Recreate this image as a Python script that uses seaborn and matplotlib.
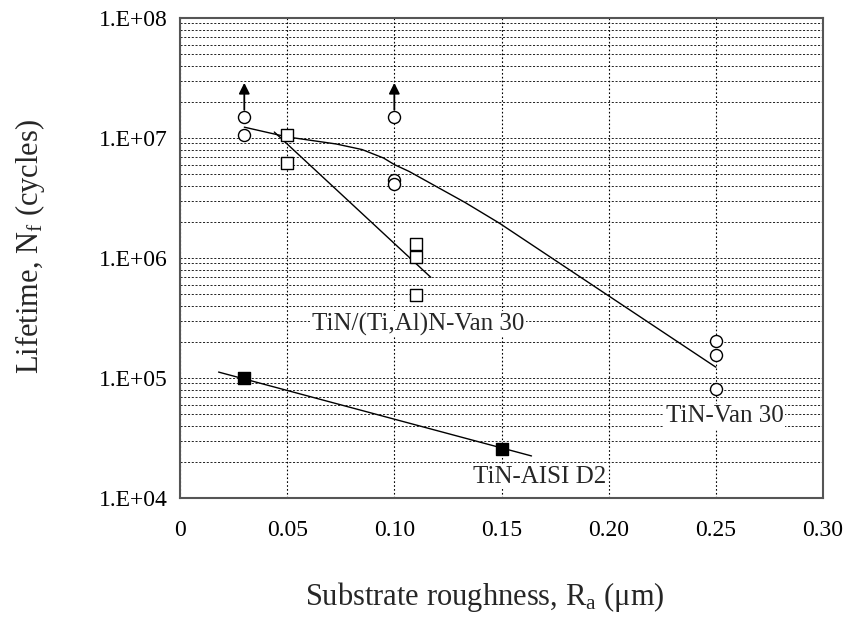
import numpy as np
import pandas as pd
import matplotlib
matplotlib.use("Agg")
import matplotlib.pyplot as plt
import matplotlib.ticker as mticker
import seaborn as sns

# data
van_x = [0.03, 0.03, 0.10, 0.10, 0.10, 0.25, 0.25, 0.25]
van_y = [1.5e7, 1.05e7, 1.5e7, 4.5e6, 4.1e6, 2.03e5, 1.55e5, 8.1e4]
runout_x = [0.03, 0.10]
runout_y = [1.5e7, 1.5e7]

tial_x = [0.05, 0.05, 0.11, 0.11, 0.11]
tial_y = [1.06e7, 6.2e6, 1.31e6, 1.02e6, 4.9e5]

d2_x = [0.03, 0.15]
d2_y = [1.0e5, 2.56e4]

# trend lines
van_fit_x = [0.03, 0.05, 0.073, 0.085, 0.095, 0.10, 0.107, 0.12, 0.133, 0.149, 0.25]
van_fit_y = [1.23e7, 1.02e7, 8.9e6, 8.0e6, 6.8e6, 6.0e6, 5.25e6, 3.9e6, 2.9e6, 1.95e6, 1.23e5]
tial_fit_x = [0.044, 0.117]
tial_fit_y = [1.12e7, 6.9e5]
d2_fit_x = [0.018, 0.164]
d2_fit_y = [1.12e5, 2.24e4]

sns.set_style("white")
plt.rcParams['font.family'] = ['Liberation Serif', 'DejaVu Serif']
plt.rcParams['mathtext.fontset'] = 'custom'
plt.rcParams['mathtext.rm'] = 'Liberation Serif'
plt.rcParams['mathtext.it'] = 'Liberation Serif:italic'

fig = plt.figure(figsize=(8.6, 6.19), dpi=100)
ax = fig.add_axes([0.2093, 0.1955, 0.7477, 0.7755])
ax.set_yscale("log")

# fitted lines
for fx, fy in [(van_fit_x, van_fit_y), (tial_fit_x, tial_fit_y), (d2_fit_x, d2_fit_y)]:
    sns.lineplot(x=fx, y=fy, ax=ax, color="black", lw=1.0, sort=False, zorder=3)

# markers
sns.scatterplot(x=van_x, y=van_y, ax=ax, marker="o", s=75, facecolor="white",
                edgecolor="black", linewidth=1.0, zorder=4)
sns.scatterplot(x=tial_x, y=tial_y, ax=ax, marker="s", s=70, facecolor="white",
                edgecolor="black", linewidth=1.0, zorder=4)
sns.scatterplot(x=d2_x, y=d2_y, ax=ax, marker="s", s=70, color="black",
                edgecolor="black", linewidth=1.0, zorder=4)

# run-out arrows
for rx, ry in zip(runout_x, runout_y):
    ax.annotate("", xy=(rx, ry * 10 ** (34 / 120)), xytext=(rx, ry * 10 ** (7 / 120)),
                arrowprops=dict(arrowstyle="-|>", color="black", lw=1.3,
                                mutation_scale=16, shrinkA=0, shrinkB=0), zorder=5)

ax.set_xlim(0, 0.30)
ax.set_ylim(1e4, 1e8)

ax.xaxis.set_major_locator(mticker.MultipleLocator(0.05))
ax.xaxis.set_minor_locator(mticker.MultipleLocator(0.025))
ax.xaxis.set_major_formatter(mticker.FuncFormatter(
    lambda v, p: "0" if abs(v) < 1e-9 else f"{v:.2f}"))
ax.yaxis.set_major_locator(mticker.LogLocator(base=10, numticks=10))
ax.yaxis.set_minor_locator(mticker.LogLocator(base=10, subs=np.arange(2, 10), numticks=10))
ax.yaxis.set_minor_formatter(mticker.NullFormatter())
ax.yaxis.set_major_formatter(mticker.FuncFormatter(
    lambda v, p: f"1.E+{int(round(np.log10(v))):02d}"))

ax.grid(True, which="major", axis="x", color="black", ls=(0, (1.5, 2)), lw=0.8)
ax.grid(True, which="both", axis="y", color="black", ls=(0, (2.5, 2)), lw=0.6)
ax.set_axisbelow(True)

ax.tick_params(axis="both", which="both", direction="in", labelsize=17, colors="black")
ax.tick_params(axis="x", which="both", length=5, pad=16)
ax.tick_params(axis="y", which="major", length=0, pad=9)
ax.tick_params(axis="y", which="minor", length=0)

for sp in ax.spines.values():
    sp.set_color("#555555")
    sp.set_linewidth(1.5)

ax.set_xlabel(r"Substrate roughness, R$_\mathrm{a}$ ($\mathrm{\mu}$m)", fontsize=22)
ax.set_ylabel(r"Lifetime, N$_\mathrm{f}$ (cycles)", fontsize=22)
ax.xaxis.set_label_coords(0.474, -0.206)
ax.xaxis.label.set_va("center")
ax.yaxis.set_label_coords(-0.233, 0.523)
ax.yaxis.label.set_va("center")

box = dict(facecolor="white", edgecolor="none", pad=1)
ax.text(0.111, 2.8e5, "TiN/(Ti,Al)N-Van 30", ha="center", va="center", fontsize=18, bbox=box, zorder=6)
ax.text(0.254, 4.8e4, "TiN-Van 30", ha="center", va="center", fontsize=18, bbox=box, zorder=6)
ax.text(0.168, 1.5e4, "TiN-AISI D2", ha="center", va="center", fontsize=18, bbox=box, zorder=6)

fig.savefig("out.png", dpi=100)
